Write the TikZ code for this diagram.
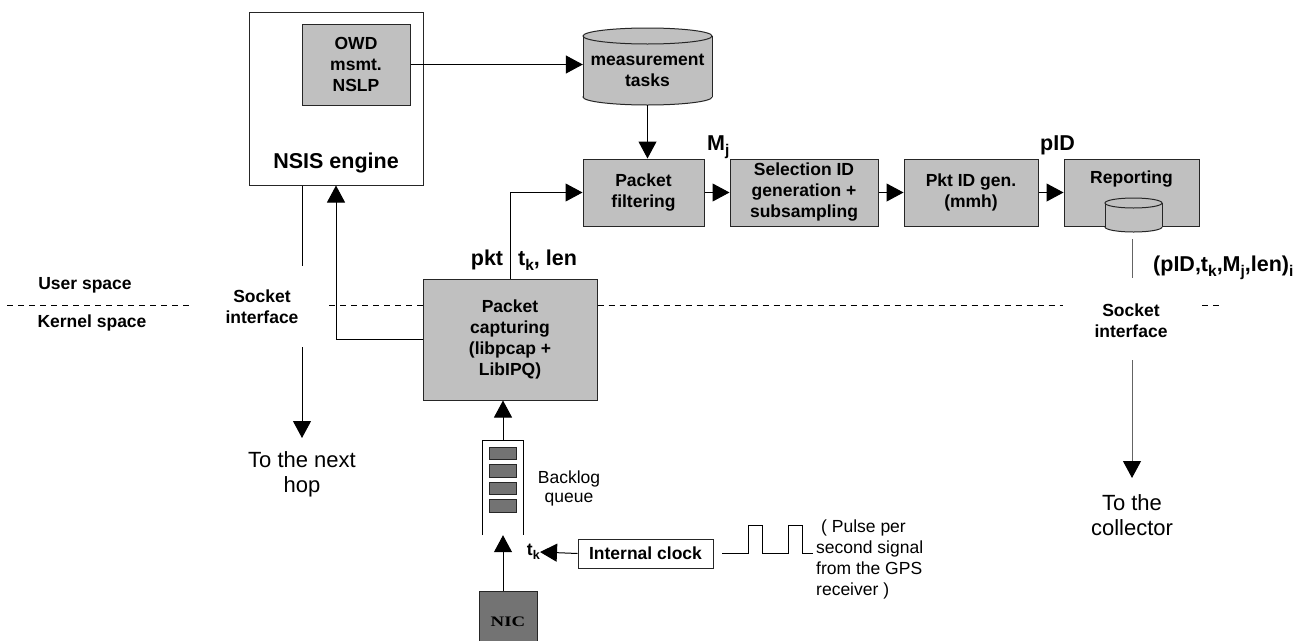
\documentclass[tikz,border=0pt]{standalone}
\usepackage{fontspec}
\setmainfont{Liberation Sans}
\newfontfamily\nicfont{Liberation Serif}
\usetikzlibrary{arrows.meta}
\definecolor{boxgray}{RGB}{192,192,192}
\definecolor{darkslot}{RGB}{115,115,115}
\definecolor{linegray}{RGB}{100,100,100}
\newcommand\sbx[1]{\raisebox{-0.25em}{\scalebox{0.72}{#1}}}
\newcommand\fsbox{\fontsize{17.5}{21}\selectfont\bfseries}
\newcommand\fslab{\fontsize{21.5}{25}\selectfont\bfseries}
\newcommand\fsreg{\fontsize{17.5}{19.5}\selectfont}
\newcommand\fsbig{\fontsize{22}{25}\selectfont}
\begin{document}
\begin{tikzpicture}[x=1pt,y=-1pt,
  proc/.style={draw=black!85, line width=1pt, fill=boxgray, align=center, inner sep=0pt, font=\fsbox},
  arr/.style={line width=1pt, -{Triangle[length=17pt,width=18pt,color=black]}},
  conn/.style={line width=1pt},
  lbl/.style={inner sep=0pt, align=center},
  sep/.style={line width=1pt, dash pattern=on 6pt off 5pt},
  cyl/.style={draw=black!85, line width=1pt, fill=boxgray}]
\useasboundingbox (0,0) rectangle (1311,640);

% NSIS engine
\node[draw=black!85, line width=1pt, minimum width=174pt, minimum height=173pt, inner sep=0pt] (nsis) at (336,98.5) {};
\node[lbl, font=\fslab] (nsislab) at (336,163) {NSIS engine};
\node[proc, minimum width=108pt, minimum height=81pt] (owd) at (356,64.5) {OWD\\msmt.\\NSLP};

% measurement tasks cylinder
\filldraw[cyl] (647.5,97) ellipse [x radius=64.5, y radius=8];
\fill[boxgray] (583,36) rectangle (712,97);
\draw[black!85, line width=1pt] (583,36) -- (583,97) (712,36) -- (712,97);
\filldraw[cyl] (647.5,36) ellipse [x radius=64.5, y radius=8];
\node[lbl, font=\fsbox, minimum width=129pt, minimum height=69pt] (meas) at (647.5,70.5) {measurement\\tasks};

% processing row
\node[proc, minimum width=121pt, minimum height=67pt] (pf) at (643.5,192.5) {Packet\\filtering};
\node[proc, minimum width=148pt, minimum height=67pt] (sel) at (804,192.5) {Selection ID\\generation +\\subsampling};
\node[proc, minimum width=134pt, minimum height=67pt] (pid) at (971,192.5) {Pkt ID gen.\\(mmh)};
\node[proc, minimum width=135pt, minimum height=67pt] (rep) at (1131.5,192.5) {};
\node[lbl, font=\fsbox] (replab) at (1131.5,179) {Reporting};
\filldraw[cyl] (1133.5,227) ellipse [x radius=28.5, y radius=5];
\fill[boxgray] (1105,203) rectangle (1162,227);
\draw[black!85, line width=1pt] (1105,203) -- (1105,227) (1162,203) -- (1162,227);
\filldraw[cyl] (1133.5,203) ellipse [x radius=28.5, y radius=5];

% packet capturing
\node[proc, minimum width=174pt, minimum height=121pt] (cap) at (510,339.5) {Packet\\capturing\\(libpcap +\\LibIPQ)};

% queue
\node[minimum width=40pt, minimum height=94pt, inner sep=0pt] (queue) at (503,488) {};
\draw[conn] (queue.south west) -- (queue.north west) -- (queue.north east) -- (queue.south east);
\foreach \yy in {447,464.5,482,499.5}
  \draw[fill=darkslot, draw=black!85, line width=0.8pt] (489,\yy) rectangle (516,\yy+12.5);
\node[lbl, font=\fsreg] (backlog) at (569,488.5) {Backlog\\queue};

% NIC
\node[draw=black!85, line width=1pt, fill=darkslot, minimum width=58pt, minimum height=62pt, inner sep=0pt, font={\nicfont\bfseries\fontsize{14.5}{18}\selectfont}] (nic) at (508,622) {\scalebox{1.3}[1]{NIC}};

% clock
\node[proc, fill=white, minimum width=135pt, minimum height=29pt] (clock) at (645.5,553.5) {Internal clock};
\node[lbl, font=\fsbox, anchor=east] (tk2) at (540,552) {t\sbx{k}};
\draw[conn] (722,553) -- (748,553) -- (748,525) -- (762,525) -- (762,553) -- (788,553) -- (788,525) -- (802,525) -- (802,553) -- (813,553);
\node[lbl, align=left, anchor=west, font=\fsreg] (pps) at (816,559) {\hspace*{5pt}( Pulse per\\[1.5pt]second signal\\[1.5pt]from the GPS\\[1.5pt]receiver )};

% separator
\coordinate (dl) at (0,305);
\draw[sep] (7,305) -- (193,305);
\draw[sep] (329,305) -- (cap.west |- dl);
\draw[sep] (cap.east |- dl) -- (1063,305);
\draw[sep] (1202,305) -- (1222,305);
\node[lbl, font=\fsbox] (user) at (85,285) {User space};
\node[lbl, font=\fsbox] (kern) at (92,323) {Kernel space};
\node[lbl, font=\fsbox] (sock1) at (262,307) {Socket\\interface};
\node[lbl, font=\fsbox] (sock2) at (1131,320.5) {Socket\\interface};

% labels
\node[lbl, font=\fslab, anchor=base] (pkt) at (487,265) {pkt};
\node[lbl, font=\fslab, anchor=base west] (tklen) at (518,265) {t\sbx{k}, len};
\node[lbl, font=\fslab, anchor=base west] (mj) at (707,150) {M\sbx{j}};
\node[lbl, font=\fslab, anchor=base west] (pidl) at (1040,150) {pID};
\node[lbl, font=\fslab, anchor=base west] (tuple) at (1153,271) {(pID,t\sbx{k},M\sbx{j},len)\sbx{i}};

% connectors
\draw[arr] (owd.east) -- (owd.east -| meas.west);
\draw[arr] (meas.south) -- (meas.south |- pf.north);
\draw[arr] (pf.east) -- (sel.west);
\draw[arr] (sel.east) -- (pid.west);
\draw[arr] (pid.east) -- (rep.west);
\draw[arr] (cap.north) |- (pf.west);
\draw[arr] (cap.west) -| (nsis.south);
\draw[arr] (queue.north) -- (queue.north |- cap.south);
\draw[arr] (nic.north -| queue.south) -- (queue.south);
\draw[arr] (clock.west) -- (tk2.east);

\coordinate (s1) at (302,266);
\coordinate (s2) at (302,347);
\coordinate (hopend) at (302,438);
\draw[conn] (nsis.south -| s1) -- (s1);
\draw[arr] (s2) -- (hopend);
\node[lbl, font=\fsbig] (hop) at (302,474.5) {To the next\\hop};

\coordinate (r1) at (1132,239);
\coordinate (r2) at (1132,278);
\coordinate (r3) at (1132,360);
\coordinate (collend) at (1132,478);
\draw[conn, linegray] (r1) -- (r2);
\draw[arr, linegray] (r3) -- (collend);
\node[lbl, font=\fsbig] (coll) at (1132,515.5) {To the\\collector};
\end{tikzpicture}
\end{document}
